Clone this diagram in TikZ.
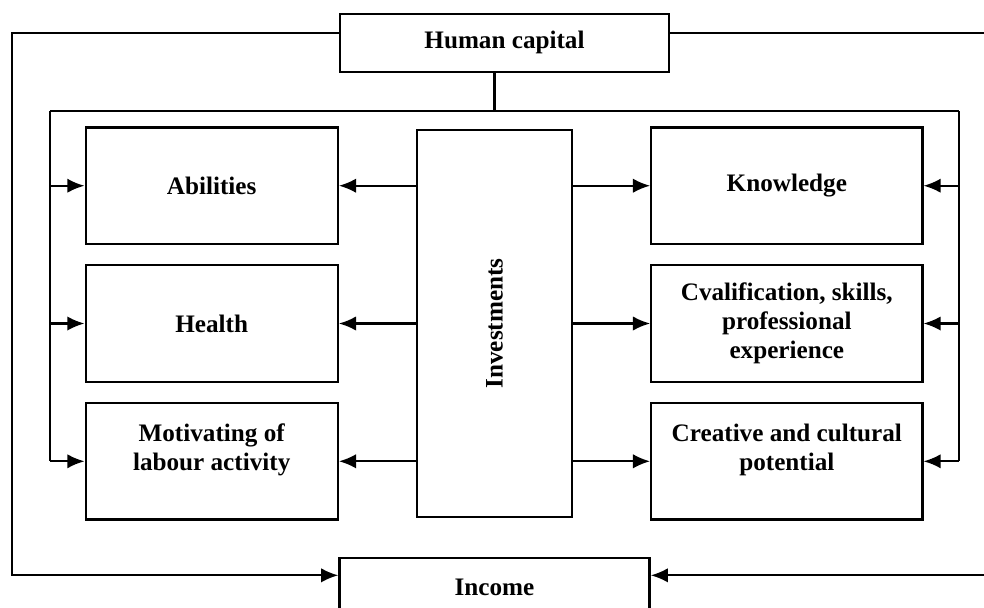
\documentclass[tikz,border=0pt]{standalone}
\usepackage{fontspec}
\setmainfont{Liberation Serif}
\usetikzlibrary{positioning,arrows.meta}
\tikzset{
  block/.style = {draw,line width=1.6pt,align=center,minimum width=6.3cm,minimum height=2.9125cm,font=\bfseries\fontsize{17.9}{20.6}\selectfont},
  wide/.style = {minimum width=6.775cm},
  line/.style = {line width=1.6pt},
  arr/.style = {line,-{Latex[length=0.43cm,width=0.36cm]}}
}
\newlength{\hgap}
\setlength{\hgap}{1.925cm}
\newlength{\vgap}
\setlength{\vgap}{0.475cm}

\begin{document}
\begin{tikzpicture}[x=0.025cm,y=-0.025cm]
\useasboundingbox (0,0) rectangle (984,607);

\node[block,minimum width=3.875cm,minimum height=9.675cm] (inv) at (494.5,323.5) {\rotatebox{90}{Investments}};

% left column
\node[block,left=\hgap of inv] (health) {Health};
\node[block,above=\vgap of health] (abil) {Abilities};
\node[block,below=\vgap of health] (motiv) {Motivating of\\labour activity\\\mbox{}};

% right column
\node[block,wide,right=\hgap of inv] (cval) {Cvalification, skills,\\professional\\experience};
\node[block,wide,above=\vgap of cval] (know) {Knowledge};
\node[block,wide,below=\vgap of cval] (creat) {Creative and cultural\\potential\\\mbox{}};

\node[block,minimum width=8.225cm,minimum height=1.45cm,above=1.4cm of inv,xshift=0.25cm] (hc) {Human capital};
\node[block,minimum width=7.75cm,minimum height=1.45cm,below=0.975cm of inv] (inc) {Income};

\coordinate (bus) at (494.5,111);
\coordinate (busl) at (50,111);
\coordinate (busr) at (959,111);
\coordinate (outl) at (12,33);
\coordinate (outr) at (986,33);

\draw[line] (hc.south -| bus) -- (bus);
\draw[line] (busl) -- (busr);
\draw[line] (busl) -- (busl |- motiv);
\draw[line] (busr) -- (busr |- creat);

\foreach \b in {abil,health,motiv}{
  \draw[arr] (busl |- \b) -- (\b);
  \draw[arr] (inv.west |- \b) -- (\b);
}
\foreach \b in {know,cval,creat}{
  \draw[arr] (busr |- \b) -- (\b);
  \draw[arr] (inv.east |- \b) -- (\b);
}

% outer loop from human capital down to income
\draw[arr] (hc.west |- outl) -- (outl) |- ([yshift=0.3cm]inc.west);
\draw[arr] (hc.east |- outr) -- (outr) |- ([yshift=0.3cm]inc.east);
\end{tikzpicture}
\end{document}
